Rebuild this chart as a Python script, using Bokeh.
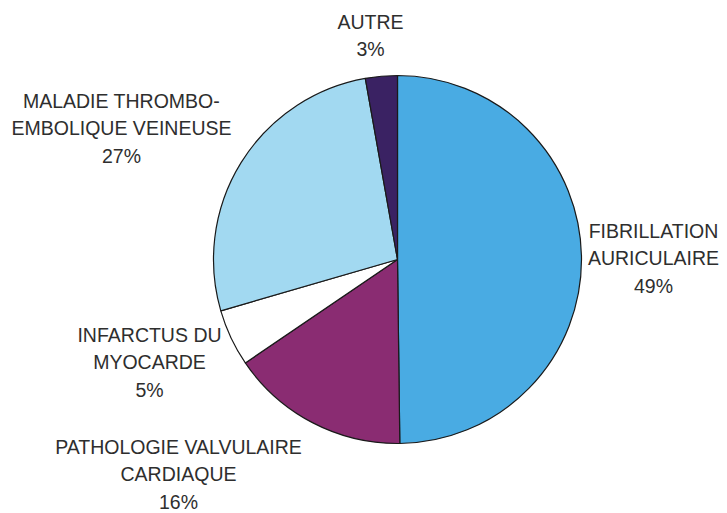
import math
from bokeh.plotting import figure
from bokeh.models import Range1d, ColumnDataSource
from bokeh.core.properties import value
from bokeh.embed import file_html
from bokeh.resources import INLINE

# ---- data ----
categories = ["FIBRILLATION\nAURICULAIRE", "PATHOLOGIE VALVULAIRE\nCARDIAQUE",
              "INFARCTUS DU\nMYOCARDE", "MALADIE THROMBO-\nEMBOLIQUE VEINEUSE", "AUTRE"]
# slice sizes
shares = [49.8, 15.7, 5.0, 26.7, 2.8]
# percentages as printed on the chart
printed_pct = [49, 16, 5, 27, 3]
colors = ["#49ABE3", "#8A2C72", "#FFFFFF", "#A2D9F1", "#3A2263"]

# ---- layout (image pixel coords) ----
W, H = 727, 513
cx, cy, R = 397, 259, 184
label_pos = [(653, 230), (178, 446), (149, 334), (121, 100), (370, 21)]
line_h = 27.5

p = figure(width=W, height=H, output_backend="svg", toolbar_location=None,
           x_range=Range1d(0, W), y_range=Range1d(0, H),
           min_border=0)
p.axis.visible = False
p.grid.visible = False
p.outline_line_color = None
p.background_fill_color = "white"

def fy(img_y):
    return H - img_y

total = sum(shares)
starts, ends = [], []
acc = 0.0
for v in shares:
    a0 = acc / total * 2 * math.pi
    acc += v
    a1 = acc / total * 2 * math.pi
    starts.append(math.pi / 2 - a0)
    ends.append(math.pi / 2 - a1)

src = ColumnDataSource(dict(start=starts, end=ends, color=colors))
p.wedge(x=cx, y=fy(cy), radius=R, start_angle="start", end_angle="end",
        direction="clock", fill_color="color", line_color="#1a1a1a",
        line_width=1.2, source=src)

xs, ys, texts = [], [], []
for cat, v, (lx, ly) in zip(categories, printed_pct, label_pos):
    lines = cat.split("\n") + [f"{v}%"]
    for i, t in enumerate(lines):
        xs.append(lx)
        ys.append(fy(ly + i * line_h))
        texts.append(t)

p.text(x=xs, y=ys, text=texts, text_align="center", text_baseline="middle",
       text_font=value("Liberation Sans"), text_font_size="19.5px",
       text_color="#2e2e2e")

open("out.html", "w").write(file_html(p, INLINE))
